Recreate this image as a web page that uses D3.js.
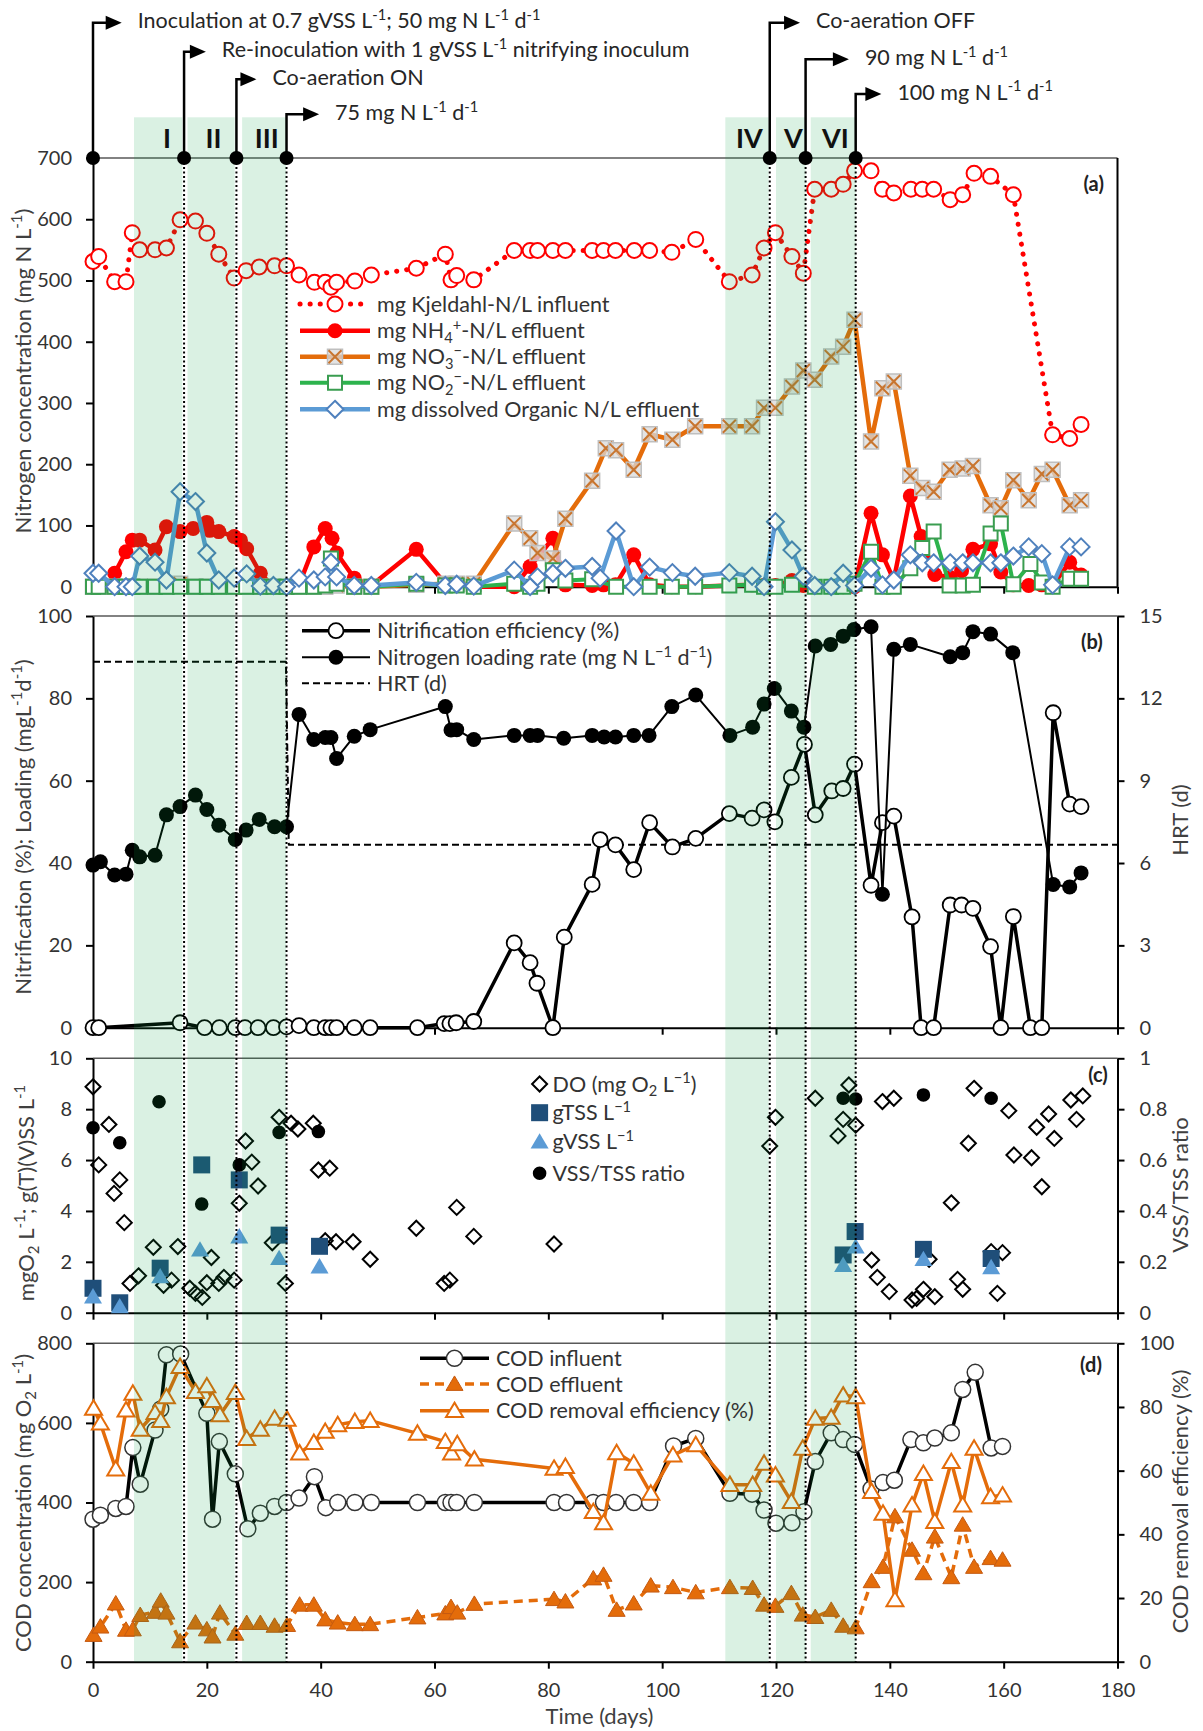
<!DOCTYPE html>
<html>
<head>
<meta charset="utf-8">
<script src="https://cdn.jsdelivr.net/npm/d3@7"></script>
<style>
  body { margin: 0; background: #fff; }
  svg text { font-family: Lato, "Open Sans", sans-serif; fill: #333; }
</style>
</head>
<body>
<div id="chart"></div>
<script>
// ---------- data (day, value) ----------
const kjeldahl = [[0,531],[1,539],[3.8,498],[5.8,498],[6.9,578],[8.2,550],[10.9,550],[12.9,553],[15.3,599],[18,597],[20,577],[22.1,543],[24.8,504],[26.9,516],[29.2,522],[31.9,524],[34,524],[36.2,509],[38.9,497],[40.8,497],[41.8,489],[42.8,497],[46,499],[48.9,509],[56.8,520],[61.9,543],[62.9,501],[63.9,508],[66.9,501],[74,549],[76.8,549],[78.1,549],[80.8,549],[83,549],[87.7,549],[89.7,549],[91.8,549],[95.1,549],[97.8,549],[101.7,546],[105.9,567],[111.8,498],[115.8,509],[117.9,553],[119.9,578],[122.8,539],[124.8,512],[126.8,649],[129.7,649],[131.8,657],[133.8,679],[136.7,679],[138.7,649],[140.7,643],[143.7,649],[145.7,649],[147.7,649],[150.6,632],[152.8,640],[154.8,675],[157.7,670],[161.7,640],[168.6,248],[171.6,242],[173.6,265]];
const nh4 = [[3.8,22],[5.8,57],[6.9,76],[8.2,76],[10.9,60],[12.9,98],[15.3,90],[17.6,95],[20,105],[20.5,92],[22.1,90],[24.8,82],[25.9,76],[27,62],[29.4,22],[31.7,0],[34,0],[36.2,3],[38.8,65],[40.8,95],[42,79],[42.8,55],[45.9,14],[48.9,2],[56.8,61],[61.9,5],[63.9,3],[66.9,0],[74,0],[76.8,33],[80.8,79],[83,3],[87.7,2],[89.7,3],[91.8,3],[95,52],[97.8,3],[101.7,0],[105.9,0],[111.8,2],[115.8,3],[117.9,2],[119.9,2],[122.8,10],[124.8,2],[126.8,0],[129.7,0],[131.8,0],[133.8,0],[136.7,120],[138.7,52],[140.7,11],[143.6,148],[145.5,82],[147.9,20],[150.6,15],[152.6,26],[154.6,61],[157.7,70],[159.5,24],[161.7,3],[164.4,2],[166.7,3],[168.6,2],[171.6,40],[173.6,19]];
const no3 = [[0,0],[1,0],[3.8,0],[5.8,0],[6.9,0],[8.2,0],[10.9,0],[12.9,0],[15.3,5],[18,0],[20,0],[22.1,0],[24.8,0],[26.9,0],[29.4,0],[31.7,0],[34,0],[36.2,0],[38.8,0],[40.8,0],[42.8,2],[45.9,0],[48.9,0],[56.8,3],[61.9,5],[63.9,5],[66.9,5],[74,103],[76.8,79],[78.1,55],[80.8,46],[83,111],[87.7,173],[90.1,226],[91.9,223],[95,191],[97.8,249],[101.8,240],[105.8,262],[111.8,262],[115.8,262],[117.9,292],[119.9,292],[122.8,327],[124.8,353],[126.8,338],[129.7,376],[131.8,392],[133.8,436],[136.7,237],[138.7,324],[140.7,335],[143.6,181],[145.7,161],[147.7,155],[150.5,191],[152.8,193],[154.6,197],[157.7,133],[159.5,128],[161.7,174],[164.4,141],[166.7,184],[168.6,191],[171.6,133],[173.6,141]];
const no2 = [[0,0],[1,0],[3.8,0],[5.8,0],[6.9,0],[8.2,0],[10.9,0],[12.9,0],[15.3,0],[18,0],[20,0],[22.1,0],[24.8,0],[26.9,0],[29.4,0],[31.7,0],[34,0],[36.2,0],[38.8,0],[40.8,2],[41.8,46],[42.8,5],[45.9,0],[48.9,0],[56.8,5],[61.9,2],[63.9,2],[66.9,0],[74,5],[76.8,0],[78.1,5],[80.8,27],[83,10],[87.7,12],[91.9,0],[97.8,0],[101.7,0],[105.8,0],[111.8,2],[115.8,3],[117.9,0],[119.9,0],[122.8,3],[126.8,0],[129.7,0],[131.8,0],[133.8,5],[136.7,57],[138.7,0],[140.7,0],[143.6,30],[145.7,63],[147.7,90],[150.5,2],[152.8,2],[154.6,3],[157.7,87],[159.5,103],[161.7,4],[164.7,37],[166.7,7],[168.6,0],[171.6,13],[173.6,13]];
const orgN = [[0,22],[1,22],[3.8,0],[5.8,0],[6.9,0],[8.2,50],[10.9,40],[12.9,11],[15.3,155],[18,139],[20,55],[22.1,11],[24.8,14],[27,21],[29.4,1],[31.7,2],[34,0],[36.2,14],[38.8,11],[40.8,16],[41.8,40],[42.8,16],[45.9,2],[48.9,2],[56.8,7],[61.9,2],[63.9,4],[66.9,1],[74,27],[76.8,0],[78.1,16],[80.8,22],[83,30],[87.7,33],[89.1,14],[91.9,91],[95,0],[97.8,32],[101.8,23],[105.8,17],[111.8,23],[115.8,17],[117.9,0],[119.9,106],[122.8,60],[124.8,17],[126.8,2],[129.7,0],[131.8,22],[133.8,2],[136.7,30],[138.7,3],[140.7,11],[143.6,52],[145.7,39],[147.7,39],[150.6,39],[152.8,39],[154.6,39],[157.7,39],[159.5,39],[161.7,50],[164.4,65],[166.7,54],[168.6,3],[171.6,65],[173.6,65]];

const nitrEff = [[0,0],[1,0],[15.3,1.2],[19.6,0],[22.2,0],[25,0],[26.7,0],[29,0],[31.7,0],[34,0.2],[36.2,0.5],[38.8,0],[40.8,0],[41.8,0],[42.8,0],[45.9,0],[48.7,0],[57,0],[61.7,1],[62.7,1],[63.8,1.2],[66.9,1.5],[74,20.6],[76.8,15.8],[78,10.8],[80.8,0],[82.8,22],[87.7,34.8],[89.1,45.7],[91.8,44.4],[95,38.4],[97.8,49.8],[101.8,43.9],[105.9,46],[111.8,52],[115.8,50.9],[117.9,52.9],[119.8,50],[122.7,60.8],[125,68.8],[126.9,51.7],[129.8,57.5],[131.8,58.1],[133.8,64],[136.7,34.6],[138.7,49.8],[140.7,51.4],[143.9,26.9],[145.5,0],[147.7,0],[150.6,29.8],[152.6,29.8],[154.6,29],[157.7,19.7],[159.5,0],[161.7,27],[164.7,0],[166.7,0],[168.7,76.5],[171.6,54.3],[173.6,53.7]];
const loadRate = [[0,39.5],[1.3,40.3],[3.8,37.1],[5.8,37.3],[6.9,43.1],[8.2,41.5],[10.9,41.9],[12.9,51.7],[15.3,53.7],[18,56.5],[20,53],[22.1,49.2],[25,45.7],[26.9,48],[29.2,50.6],[31.9,48.8],[34,48.8],[36.2,76.1],[38.8,70],[40.8,70.5],[41.8,70.5],[42.8,65.4],[45.9,70.8],[48.7,72.4],[61.9,78],[62.9,72.3],[63.9,72.4],[66.9,70],[74,71],[76.8,71],[78.1,71],[82.7,70.3],[87.7,71],[89.8,70.6],[91.8,70.6],[95,71],[97.7,71],[101.7,78],[105.9,80.8],[111.9,71],[115.9,73],[117.9,78.6],[119.7,82.4],[122.7,76.9],[124.9,73],[126.9,92.7],[129.6,93.1],[131.8,95.1],[133.7,96.7],[136.7,97.4],[138.7,32.4],[140.7,91.9],[143.6,93.1],[150.6,90.1],[152.8,91.1],[154.6,96.2],[157.7,95.6],[161.6,91.1],[168.7,34.8],[171.6,34.2],[173.6,37.6]];
const hrt = [[0,13.33],[33.9,13.33],[34.4,6.67],[180,6.67]];

const dissolvedO2 = [[0,8.88],[1,5.81],[2.8,7.4],[3.7,4.69],[4.7,5.22],[5.5,3.54],[6.5,1.15],[8,1.45],[10.6,2.57],[12.4,1.08],[13.8,1.28],[14.9,2.6],[17,0.96],[18,0.76],[19.2,0.6],[20,1.18],[20.8,2.17],[22.1,1.15],[23,1.39],[24.8,1.28],[25.7,4.3],[26.8,6.75],[27.9,5.92],[29,4.98],[31.5,2.75],[32.7,7.68],[33.8,1.15],[34.8,7.45],[36,7.22],[38.7,7.45],[39.6,5.61],[40.8,2.83],[41.6,5.68],[42.7,2.79],[45.7,2.79],[48.7,2.1],[56.8,3.32],[61.7,1.15],[62.7,1.28],[63.9,4.14],[66.9,3.0],[81,2.7],[118.9,6.55],[119.9,7.68],[126.9,8.43],[130.9,6.95],[131.8,7.6],[132.8,8.95],[134,7.37],[136.8,2.07],[137.8,1.39],[138.7,8.3],[139.9,0.83],[140.7,8.43],[143.9,0.5],[144.7,0.56],[145.9,0.92],[146.9,2.1],[147.9,0.63],[150.8,4.32],[151.9,1.31],[152.8,0.92],[153.8,6.66],[154.8,8.82],[157.8,2.4],[158.9,0.76],[159.8,2.36],[160.9,7.94],[161.8,6.2],[164.9,6.09],[165.8,7.29],[166.7,4.95],[167.9,7.81],[168.9,6.85],[171.8,8.36],[172.8,7.6],[173.9,8.52]];
const gTSS = [[0,0.96],[4.7,0.39],[11.8,1.75],[19.1,5.81],[25.7,5.22],[32.7,3.05],[39.8,2.61],[131.8,2.27],[133.9,3.19],[145.9,2.49],[157.8,2.13]];
const gVSS = [[0,0.63],[4.7,0.24],[11.8,1.42],[18.8,2.47],[25.7,2.99],[32.7,2.14],[39.8,1.81],[131.8,1.87],[134,2.59],[145.9,2.1],[157.8,1.78]];
const vssTss = [[0,0.727],[4.7,0.668],[11.6,0.829],[19.1,0.427],[25.7,0.581],[32.7,0.709],[39.6,0.712],[131.8,0.843],[134,0.84],[145.9,0.856],[157.8,0.843]];

const codIn = [[0,358],[1.3,368],[4,385],[5.8,390],[7,538],[8.3,446],[10.9,582],[11.9,635],[12.9,771],[15.4,773],[20,624],[21,358],[22.2,553],[25,472],[27.2,334],[29.4,373],[31.9,390],[34,400],[36.2,411],[38.9,465],[40.9,387],[43,400],[46,400],[48.9,400],[57,400],[61.9,400],[62.9,400],[63.9,400],[67,400],[81,400],[83.2,400],[87.9,400],[89.7,400],[91.9,400],[95,400],[97.8,400],[102,542],[105.9,561],[111.9,423],[115.8,421],[117.9,381],[120,348],[122.8,349],[124.9,377],[126.9,503],[129.7,575],[131.8,558],[133.8,546],[136.7,434],[138.8,450],[140.8,456],[143.7,558],[145.9,550],[147.9,562],[150.8,575],[152.8,684],[155,727],[157.8,537],[159.8,541]];
const codEff = [[0.1,67],[1.3,88],[4,146],[5.8,80],[7,81],[8.3,117],[10.9,125],[11.9,153],[12.9,123],[15.3,51],[18,98],[20,81],[21,63],[22.3,123],[25,70],[27,97],[29.4,97],[31.9,90],[34.1,92],[36.3,143],[38.8,143],[40.8,106],[43,98],[46,94],[48.7,94],[57,111],[61.9,121],[62.9,137],[64,123],[67,145],[81,157],[83,151],[87.9,209],[89.7,218],[92,130],[95,146],[98,191],[101.9,187],[105.9,174],[111.9,187],[115.9,185],[117.9,143],[119.9,140],[122.7,172],[124.7,118],[126.9,112],[129.7,130],[131.8,90],[134,86],[136.8,202],[138.8,238],[140.9,365],[143.9,281],[145.9,222],[147.9,314],[150.8,212],[152.8,344],[154.8,238],[157.7,260],[159.8,256]];
const codRemoval = [[0.1,79.6],[1.3,74.9],[4,60.5],[5.8,79],[7,84.3],[8.3,73],[10.9,78.2],[11.9,75.7],[12.9,83.2],[15.3,92.7],[18,84.8],[20,86.6],[21,82],[22.3,77.5],[25,84.5],[27,70.1],[29.4,73],[31.9,76.4],[34.1,76.1],[36.3,65.5],[38.8,68.8],[40.8,72.3],[43,74.4],[46,75.4],[48.7,75.7],[57,71.7],[61.9,69.1],[63,65.5],[64,68.4],[67,63.6],[81,60.7],[83,61.3],[87.9,47.1],[89.7,43.6],[92,65.6],[95,62.3],[98,52.9],[101.9,64.9],[105.9,68.1],[111.9,55.6],[115.9,55.6],[117.9,62.3],[119.9,58.6],[122.7,50.3],[124.7,67],[126.9,76.4],[129.7,76.7],[131.8,83.7],[134,83.2],[136.8,53.4],[138.8,46.6],[140.9,19.4],[143.9,49.2],[145.9,59.1],[147.9,44],[150.8,62.8],[152.8,49.2],[154.8,67],[157.7,51.8],[159.8,52.3]];

// phases (start, end day) and event days
const phaseNames = ["I", "II", "III", "IV", "V", "VI"];
const phaseSpans = [[7.2,15.7],[16.6,24.9],[26.2,33.9],[111.1,118.7],[120,125.2],[126.1,134]];
const eventDays = [0, 16, 25.2, 34, 118.9, 125.2, 134];
const eventLabels = [
  ["Inoculation at 0.7 gVSS L", ["-1","sup"], "; 50 mg N L", ["-1","sup"], " d", ["-1","sup"]],
  ["Re-inoculation with 1 gVSS L", ["-1","sup"], " nitrifying inoculum"],
  ["Co-aeration ON"],
  ["75 mg N L", ["-1","sup"], " d", ["-1","sup"]],
  ["Co-aeration OFF"],
  ["90 mg N L", ["-1","sup"], " d", ["-1","sup"]],
  ["100 mg N L", ["-1","sup"], " d", ["-1","sup"]]
];
const eventLevel = [22.7, 51.7, 79.3, 114.3, 22.7, 59.3, 94];
const eventArrowLen = [28.7, 21.8, 20, 32.6, 30.3, 43.3, 25.7];

// ---------- layout ----------
const width = 1203, height = 1731;
const svg = d3.select("#chart").append("svg")
  .attr("width", width).attr("height", height);

const x = d3.scaleLinear().domain([0, 180]).range([93, 1117.5]);
const yA = d3.scaleLinear().domain([0, 700]).range([586.7, 158]);
const yB = d3.scaleLinear().domain([0, 100]).range([1027.7, 616]);
const yB2 = d3.scaleLinear().domain([0, 15]).range([1027.7, 616]);
const yC = d3.scaleLinear().domain([0, 10]).range([1312.7, 1058.3]);
const yC2 = d3.scaleLinear().domain([0, 1]).range([1312.7, 1058.3]);
const yD = d3.scaleLinear().domain([0, 800]).range([1661.7, 1343.3]);
const yD2 = d3.scaleLinear().domain([0, 100]).range([1661.7, 1343.3]);

const FS = 21.5;      // legend / annotation text
const TICK_FS = 20;
const TITLE_FS = 22;

// text with sub/superscripts, vertically centred on its y
function rich(sel, parts, fs) {
  let shift = -fs * 0.35;
  parts.forEach(p => {
    const [t, k] = typeof p === "string" ? [p, null] : p;
    const target = k === "sup" ? -fs * 0.38 : k === "sub" ? fs * 0.22 : 0;
    sel.append("tspan").attr("dy", target - shift)
      .attr("font-size", k ? fs * 0.68 : fs).text(t);
    shift = target;
  });
}

function shapePath(shape, s) {
  if (shape === "circle") return `M${s},0A${s},${s} 0 1,1 ${-s},0A${s},${s} 0 1,1 ${s},0Z`;
  if (shape === "square") return `M${-s},${-s}H${s}V${s}H${-s}Z`;
  if (shape === "diamond") return `M0,${-s}L${s},0L0,${s}L${-s},0Z`;
  if (shape === "triangle") return `M0,${-s * 0.95}L${s},${s * 0.75}L${-s},${s * 0.75}Z`;
  if (shape === "cross") return `M${-s},${-s}L${s},${s}M${s},${-s}L${-s},${s}`;
}

function drawMarker(g, shape, o) {
  if (shape === "xbox") {
    g.append("path").attr("d", shapePath("square", o.size))
      .attr("fill", "#d9d9d9").attr("fill-opacity", 0.75)
      .attr("stroke", "#bfbfbf").attr("stroke-width", 1.5);
    g.append("path").attr("d", shapePath("cross", o.size - 1))
      .attr("fill", "none").attr("stroke", "#c8752f").attr("stroke-width", 2);
    return;
  }
  g.append("path").attr("d", shapePath(shape, o.size))
    .attr("fill", o.mfill).attr("stroke", o.mstroke || "none")
    .attr("stroke-width", o.mwidth || 0);
}

function series(layer, data, y, o) {
  if (o.stroke) {
    layer.append("path")
      .datum(data)
      .attr("fill", "none")
      .attr("stroke", o.stroke)
      .attr("stroke-width", o.width)
      .attr("stroke-dasharray", o.dash || null)
      .attr("stroke-linecap", o.cap || "butt")
      .attr("stroke-linejoin", "round")
      .attr("d", d3.line().x(d => x(d[0])).y(d => y(d[1])));
  }
  if (o.marker) {
    layer.selectAll(null)
      .data(data)
      .enter()
      .append("g")
      .attr("transform", d => `translate(${x(d[0])},${y(d[1])})`)
      .each(function() { drawMarker(d3.select(this), o.marker, o); });
  }
}

function legendRow(layer, lx, ly, o, parts, lineLen) {
  const g = layer.append("g").attr("transform", `translate(${lx},${ly})`);
  if (o.stroke && lineLen) {
    g.append("line").attr("x1", 0).attr("x2", lineLen).attr("y1", 0).attr("y2", 0)
      .attr("stroke", o.stroke).attr("stroke-width", o.width)
      .attr("stroke-dasharray", o.dash || null).attr("stroke-linecap", o.cap || "butt");
  }
  if (o.marker) {
    const m = g.append("g").attr("transform", `translate(${lineLen ? lineLen / 2 : 0},0)`);
    drawMarker(m, o.marker, o);
  }
  const t = g.append("text").attr("x", lineLen ? lineLen + 7 : 13).attr("y", 0)
    .attr("font-size", FS);
  rich(t, parts, FS);
}

function styleAxis(g) {
  g.select(".domain").attr("stroke", "#000").attr("stroke-width", 2);
  g.selectAll(".tick line").attr("stroke", "#000").attr("stroke-width", 2);
  g.selectAll(".tick text").attr("font-size", TICK_FS).attr("fill", "#404040")
    .attr("font-family", "Lato, 'Open Sans', sans-serif");
}

function yTitle(tx, ty, parts) {
  const t = svg.append("text")
    .attr("transform", `translate(${tx},${ty}) rotate(-90)`)
    .attr("text-anchor", "middle")
    .attr("font-size", TITLE_FS)
    .style("fill", "#404040");
  rich(t, parts, TITLE_FS);
}

const axesLayer = svg.append("g");
const dataLayer = svg.append("g");
const bandLayer = svg.append("g");
const guideLayer = svg.append("g");
const textLayer = svg.append("g");

// ---------- axes / frames ----------
const panels = [
  { y: yA, ticks: d3.range(0, 701, 100), y2: null, top: 158 },
  { y: yB, ticks: d3.range(0, 101, 20), y2: yB2, ticks2: d3.range(0, 16, 3), top: 616 },
  { y: yC, ticks: d3.range(0, 11, 2), y2: yC2, ticks2: [0, 0.2, 0.4, 0.6, 0.8, 1], top: 1058.3 },
  { y: yD, ticks: d3.range(0, 801, 200), y2: yD2, ticks2: d3.range(0, 101, 20), top: 1343.3 }
];

panels.forEach((p, i) => {
  const bottom = p.y(0);
  axesLayer.append("line")
    .attr("x1", x(0)).attr("x2", x(180)).attr("y1", p.top).attr("y2", p.top)
    .attr("stroke", "#595959").attr("stroke-width", 1.5);

  const xa = axesLayer.append("g").attr("transform", `translate(0,${bottom})`)
    .call(d3.axisBottom(x).tickValues(d3.range(0, 181, 20)).tickSize(7)
      .tickSizeOuter(0).tickPadding(14).tickFormat(i === 3 ? d3.format("d") : ""));
  styleAxis(xa);

  const ya = axesLayer.append("g").attr("transform", `translate(${x(0)},0)`)
    .call(d3.axisLeft(p.y).tickValues(p.ticks).tickSize(7).tickSizeOuter(0).tickPadding(14));
  styleAxis(ya);

  if (p.y2) {
    const ya2 = axesLayer.append("g").attr("transform", `translate(${x(180)},0)`)
      .call(d3.axisRight(p.y2).tickValues(p.ticks2).tickSize(7).tickSizeOuter(0).tickPadding(15)
        .tickFormat(d => (d > 0 && d < 1) ? d.toFixed(1) : d));
    styleAxis(ya2);
  } else {
    axesLayer.append("line")
      .attr("x1", x(180)).attr("x2", x(180)).attr("y1", p.top).attr("y2", bottom)
      .attr("stroke", "#000").attr("stroke-width", 2);
  }
});

// ---------- panel (a) ----------
const kjStyle = { stroke: "#ff0000", width: 5, dash: "0.1,10", cap: "round", marker: "circle", size: 7.5, mfill: "#fff", mstroke: "#ff0000", mwidth: 2 };
const nh4Style = { stroke: "#ff0000", width: 4.5, marker: "circle", size: 7.5, mfill: "#ff0000" };
const no3Style = { stroke: "#e46c0a", width: 4.5, marker: "xbox", size: 7.5 };
const no2Style = { stroke: "#2db34d", width: 4, marker: "square", size: 7, mfill: "#fff", mstroke: "#3a9d50", mwidth: 2 };
const orgStyle = { stroke: "#5b9bd5", width: 4.5, marker: "diamond", size: 8.5, mfill: "#fff", mstroke: "#4f81bd", mwidth: 2 };

series(dataLayer, kjeldahl, yA, kjStyle);
series(dataLayer, nh4, yA, nh4Style);
series(dataLayer, no3, yA, no3Style);
series(dataLayer, no2, yA, no2Style);
series(dataLayer, orgN, yA, orgStyle);

legendRow(textLayer, 300, 304, kjStyle, ["mg Kjeldahl-N/L influent"], 70);
legendRow(textLayer, 300, 330.7, nh4Style, ["mg NH", ["4","sub"], ["+","sup"], "-N/L effluent"], 70);
legendRow(textLayer, 300, 356.7, no3Style, ["mg NO", ["3","sub"], ["\u2212","sup"], "-N/L effluent"], 70);
legendRow(textLayer, 300, 382.7, no2Style, ["mg NO", ["2","sub"], ["\u2212","sup"], "-N/L effluent"], 70);
legendRow(textLayer, 300, 409.3, orgStyle, ["mg dissolved Organic N/L effluent"], 70);

// ---------- panel (b) ----------
const effStyle = { stroke: "#000", width: 3.5, marker: "circle", size: 7.5, mfill: "#fff", mstroke: "#000", mwidth: 1.8 };
const loadStyle = { stroke: "#000", width: 2, marker: "circle", size: 7.5, mfill: "#000" };
const hrtStyle = { stroke: "#000", width: 2, dash: "7,4" };

series(dataLayer, hrt, yB2, hrtStyle);
series(dataLayer, nitrEff, yB, effStyle);
series(dataLayer, loadRate, yB, loadStyle);

legendRow(textLayer, 302, 630.7, effStyle, ["Nitrification efficiency (%)"], 68);
legendRow(textLayer, 302, 657.3, loadStyle, ["Nitrogen loading rate (mg N L", ["\u22121","sup"], " d", ["\u22121","sup"], ")"], 68);
legendRow(textLayer, 302, 683.3, hrtStyle, ["HRT (d)"], 68);

// ---------- panel (c) ----------
const doStyle = { marker: "diamond", size: 7.5, mfill: "none", mstroke: "#000", mwidth: 2 };
const tssStyle = { marker: "square", size: 8.5, mfill: "#1f4e79" };
const vssStyle = { marker: "triangle", size: 9, mfill: "#5b9bd5" };
const ratioStyle = { marker: "circle", size: 6.8, mfill: "#000" };

series(dataLayer, dissolvedO2, yC, doStyle);
series(dataLayer, gTSS, yC, tssStyle);
series(dataLayer, gVSS, yC, vssStyle);
series(dataLayer, vssTss, yC2, ratioStyle);

legendRow(textLayer, 539.6, 1084, doStyle, ["DO (mg O", ["2","sub"], " L", ["\u22121","sup"], ")"], 0);
legendRow(textLayer, 539.6, 1112.7, tssStyle, ["gTSS L", ["\u22121","sup"]], 0);
legendRow(textLayer, 539.6, 1141.7, vssStyle, ["gVSS L", ["\u22121","sup"]], 0);
legendRow(textLayer, 539.6, 1173.3, ratioStyle, ["VSS/TSS ratio"], 0);

// ---------- panel (d) ----------
const inStyle = { stroke: "#000", width: 3.5, marker: "circle", size: 8, mfill: "#fff", mstroke: "#333", mwidth: 1.5 };
const outStyle = { stroke: "#e46c0a", width: 3.5, dash: "9,6", marker: "triangle", size: 8.5, mfill: "#e46c0a", mstroke: "#c55a11", mwidth: 1 };
const remStyle = { stroke: "#e46c0a", width: 3.5, marker: "triangle", size: 8.5, mfill: "#fff", mstroke: "#e46c0a", mwidth: 2 };

series(dataLayer, codIn, yD, inStyle);
series(dataLayer, codEff, yD, outStyle);
series(dataLayer, codRemoval, yD2, remStyle);

legendRow(textLayer, 420, 1358.3, inStyle, ["COD influent"], 69);
legendRow(textLayer, 420, 1384, outStyle, ["COD effluent"], 69);
legendRow(textLayer, 420, 1410.7, remStyle, ["COD removal efficiency (%)"], 69);

// ---------- phase bands (drawn over the data, like the original overlay) ----------
bandLayer.selectAll("rect")
  .data(phaseSpans)
  .enter()
  .append("rect")
  .attr("x", d => x(d[0]))
  .attr("width", d => x(d[1]) - x(d[0]))
  .attr("y", 117.3)
  .attr("height", yD(0) - 117.3)
  .attr("fill", "rgb(8,162,68)")
  .attr("fill-opacity", 0.15);

textLayer.selectAll(".phase")
  .data(phaseSpans)
  .enter()
  .append("text")
  .attr("class", "phase")
  .attr("x", (d, i) => [167, 213.5, 266.7, 749.3, 793.3, 835.4][i])
  .attr("y", 138)
  .attr("dy", "0.36em")
  .attr("text-anchor", "middle")
  .attr("font-size", 27)
  .attr("font-weight", "bold")
  .style("fill", "#111")
  .text((d, i) => phaseNames[i]);

// ---------- event guides and annotations ----------
eventDays.forEach((day, i) => {
  const ex = x(day);
  if (i > 0) {
    guideLayer.append("line")
      .attr("x1", ex).attr("x2", ex).attr("y1", yA(700)).attr("y2", yD(0))
      .attr("stroke", "#000").attr("stroke-width", 2).attr("stroke-dasharray", "2,2.5");
  }
  const ly = eventLevel[i];
  const tipX = ex + eventArrowLen[i];
  guideLayer.append("path")
    .attr("d", `M${ex},${yA(700)}V${ly}H${tipX - 15}`)
    .attr("fill", "none").attr("stroke", "#000").attr("stroke-width", 2.5);
  guideLayer.append("path")
    .attr("d", `M${tipX - 16},${ly - 7}L${tipX},${ly}L${tipX - 16},${ly + 7}Z`)
    .attr("fill", "#000");
  guideLayer.append("circle")
    .attr("cx", ex).attr("cy", yA(700)).attr("r", 7).attr("fill", "#000");
  const t = textLayer.append("text")
    .attr("x", tipX + 16).attr("y", ly - 2)
    .attr("font-size", FS).style("fill", "#262626");
  rich(t, eventLabels[i], FS);
});

// panel letters
[["(a)", 1093.7, 184], ["(b)", 1091.8, 641.7], ["(c)", 1098, 1075], ["(d)", 1091, 1365]]
  .forEach(([s, px, py]) => {
    textLayer.append("text").attr("x", px).attr("y", py).attr("dy", "0.35em")
      .attr("text-anchor", "middle").attr("font-size", 20).attr("font-weight", "bold")
      .style("fill", "#222").text(s);
  });

// axis titles
yTitle(23, 371, ["Nitrogen concentration (mg N L", ["-1","sup"], ")"]);
yTitle(23, 827, ["Nitrification (%); Loading (mgL", ["-1","sup"], "d", ["-1","sup"], ")"]);
yTitle(26, 1193, ["mgO", ["2","sub"], " L", ["-1","sup"], "; g(T)(V)SS L", ["-1","sup"]]);
yTitle(23.5, 1503, ["COD concentration (mg O", ["2","sub"], " L", ["-1","sup"], ")"]);
yTitle(1180.5, 820, ["HRT (d)"]);
yTitle(1180.5, 1185, ["VSS/TSS ratio"]);
yTitle(1180.5, 1501.5, ["COD removal efficiency (%)"]);

svg.append("text")
  .attr("x", 599.5).attr("y", 1716.7).attr("dy", "0.35em")
  .attr("text-anchor", "middle").attr("font-size", TITLE_FS).style("fill", "#404040")
  .text("Time (days)");
</script>
</body>
</html>
